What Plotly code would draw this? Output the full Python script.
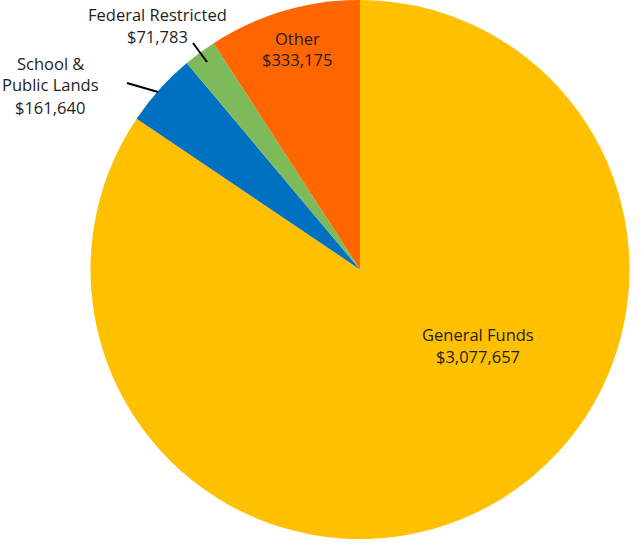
import plotly.graph_objects as go

W, H = 641, 543

labels = ['General Funds', 'School &<br>Public Lands', 'Federal Restricted', 'Other']
values = [3077657, 161640, 71783, 333175]
colors = ['#FFC000', '#0070C0', '#7FBA5A', '#FF6600']

# label block centres in pixels (x, y from top)
label_pos = [(478, 345), (50, 85), (157, 25), (297, 49)]
line_gap = 22
# leader lines for the small slices
leaders = {1: (127, 83, 158, 92), 2: (193, 43, 207, 62)}

R = 270
cx, cy = 360, 269

fig = go.Figure(go.Pie(labels=labels, values=values, sort=False, direction='clockwise',
                       rotation=0, textinfo='none', hoverinfo='label+value',
                       marker=dict(colors=colors, line=dict(width=0)),
                       domain=dict(x=[(cx - R) / W, (cx + R) / W],
                                   y=[max(0, 1 - (cy + R) / H), min(1, 1 - (cy - R) / H)]),
                       showlegend=False))

for i, (px, py) in enumerate(label_pos):
    lines = labels[i].split('<br>') + ['$' + format(values[i], ',')]
    top = py - line_gap * (len(lines) - 1) / 2
    for k, txt in enumerate(lines):
        fig.add_annotation(x=px / W, y=1 - (top + k * line_gap) / H, xref='paper', yref='paper',
                           xanchor='center', yanchor='middle', text=txt, showarrow=False,
                           font=dict(family='Open Sans', size=16.5, color='#1e1e1e'))

for i, (x0, y0, x1, y1) in leaders.items():
    fig.add_shape(type='line', xref='paper', yref='paper', x0=x0 / W, y0=1 - y0 / H,
                  x1=x1 / W, y1=1 - y1 / H, line=dict(color='black', width=2))

fig.update_layout(width=W, height=H, margin=dict(l=0, r=0, t=0, b=0),
                  paper_bgcolor='white', plot_bgcolor='white')
fig.write_html('out.html', config={'displayModeBar': False},
               post_script="document.body.style.margin='0';")
